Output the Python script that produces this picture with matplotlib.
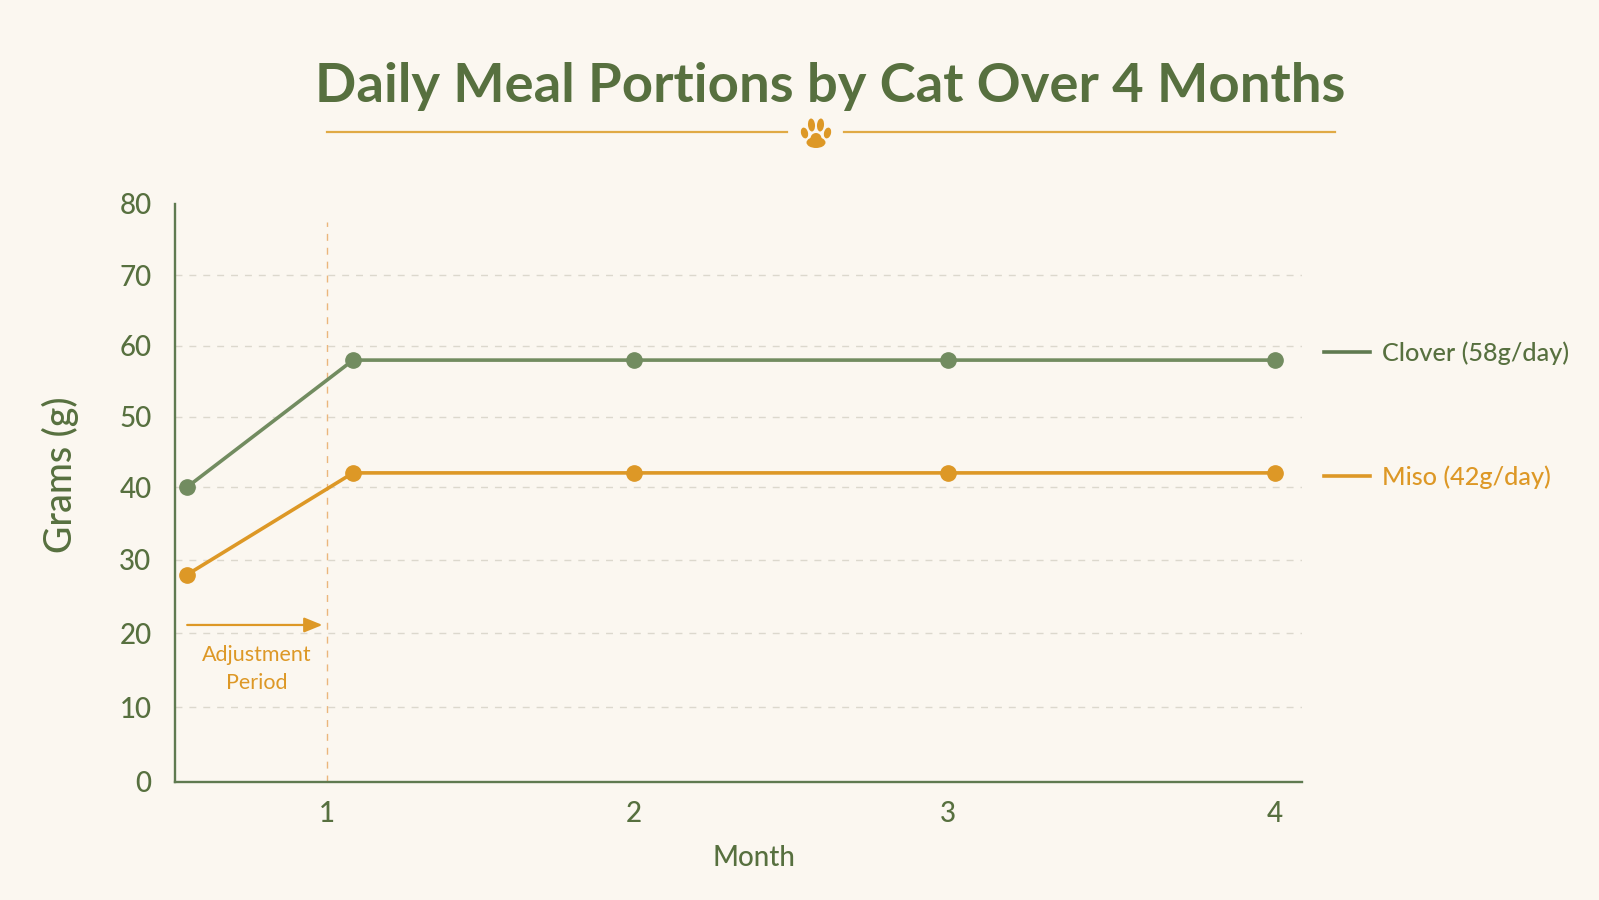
import matplotlib
matplotlib.use('Agg')
import matplotlib.pyplot as plt
from matplotlib.patches import Ellipse
import numpy as np

# Meal data
months = [0.54, 1.085, 2, 3, 4]
clover = [40, 58, 58, 58, 58]
miso = [28, 42, 42, 42, 42]
grid_values = [10, 20, 30, 40, 50, 60, 70]
y_ticks = [0, 10, 20, 30, 40, 50, 60, 70, 80]
x_ticks = [1, 2, 3, 4]

# Hand-spaced axes: value -> distance along the axis
y_knots = [0, 10, 20, 30, 40, 50, 60, 70, 80]
y_dist = [0, 75, 149, 222, 295, 365.5, 436, 507, 578]
x_knots = [0.5, 1, 2, 3, 4, 4.083]
x_dist = [0, 152, 459, 773, 1100, 1127]

GREEN_TEXT = '#57703f'
GREEN_AXIS = '#5f7a50'
GREEN_LINE = '#728c60'
ORANGE = '#dd9826'
RULE = '#e0aa45'
BG = '#fbf7f0'

plt.rcParams['font.family'] = ['Lato', 'DejaVu Sans']

fig = plt.figure(figsize=(15.99, 9), dpi=100, facecolor=BG)
ax = fig.add_axes([175 / 1599, 1 - 782 / 900, 1127 / 1599, 578 / 900], facecolor='none')

ax.set_xscale('function', functions=(lambda v: np.interp(v, x_knots, x_dist),
                                     lambda v: np.interp(v, x_dist, x_knots)))
ax.set_yscale('function', functions=(lambda v: np.interp(v, y_knots, y_dist),
                                     lambda v: np.interp(v, y_dist, y_knots)))
ax.set_xlim(x_knots[0], x_knots[-1])
ax.set_ylim(0, 80)

# Grid and adjustment marker
ax.hlines(grid_values, x_knots[0], x_knots[-1], color='#dcd8cd', lw=1, linestyle=(0, (5, 5)), zorder=1)
ax.vlines(1, 0, 77.5, color='#ebb67c', lw=1, linestyle=(0, (5, 5)), zorder=1)

ax.plot(months, clover, color=GREEN_LINE, lw=2.6, marker='o', ms=11, zorder=3, clip_on=False)
ax.plot(months, miso, color=ORANGE, lw=2.6, marker='o', ms=11, zorder=3, clip_on=False)

ax.annotate('', xy=(0.985, 21.1), xytext=(0.54, 21.1),
            arrowprops=dict(arrowstyle='-|>,head_length=1.1,head_width=0.45', color=ORANGE, lw=1.6,
                            shrinkA=0, shrinkB=0))
ax.text(0.77, 15.1, 'Adjustment\nPeriod', color=ORANGE, fontsize=15.5, ha='center', va='center',
        linespacing=1.5)

for side in ['top', 'right']:
    ax.spines[side].set_visible(False)
for side in ['left', 'bottom']:
    ax.spines[side].set_color(GREEN_AXIS)
    ax.spines[side].set_linewidth(1.7)

ax.set_xticks(x_ticks)
ax.set_yticks(y_ticks)
ax.xaxis.set_minor_locator(plt.NullLocator())
ax.yaxis.set_minor_locator(plt.NullLocator())
ax.set_xticklabels([str(m) for m in x_ticks], fontweight='medium')
ax.set_yticklabels([str(v) for v in y_ticks], fontweight='medium')
ax.tick_params(axis='x', length=0, pad=14, labelsize=20, labelcolor=GREEN_TEXT)
ax.tick_params(axis='y', length=0, pad=17, labelsize=20, labelcolor=GREEN_TEXT)

# Title, rule, legend and axis names share a pixel-sized overlay
over = fig.add_axes([0, 0, 1, 1], facecolor='none')
over.set_xlim(0, 1599)
over.set_ylim(900, 0)
over.axis('off')

over.text(830, 102, 'Daily Meal Portions by Cat Over 4 Months', color=GREEN_TEXT, fontsize=39.2,
          fontweight='bold', ha='center', va='baseline')
over.plot([327, 787], [131.5, 131.5], color=RULE, lw=1.6)
over.plot([844, 1335], [131.5, 131.5], color=RULE, lw=1.6)

# Paw print
for cx, cy, w, h, ang in [(804.5, 133, 7, 11, -15), (811.5, 125, 7, 13, -5),
                          (820.5, 125, 7, 13, 5), (827.5, 133, 7, 11, 15)]:
    over.add_patch(Ellipse((cx, cy), w, h, angle=ang, color=ORANGE, lw=0))
over.add_patch(Ellipse((816, 142.5), 19, 11, color=ORANGE, lw=0))
over.add_patch(Ellipse((816, 138.5), 11, 11, color=ORANGE, lw=0))

over.plot([1324, 1370], [352, 352], color=GREEN_AXIS, lw=2.6)
over.plot([1324, 1370], [476, 476], color=ORANGE, lw=2.6)
over.text(1382, 353, 'Clover (58g/day)', color=GREEN_TEXT, fontsize=18.2, fontweight='medium',
          ha='left', va='center')
over.text(1382, 477, 'Miso (42g/day)', color=ORANGE, fontsize=18.2, fontweight='medium',
          ha='left', va='center')

over.text(60, 475, 'Grams (g)', color=GREEN_TEXT, fontsize=27, fontweight='medium', rotation=90,
          ha='center', va='center')
over.text(754, 858, 'Month', color=GREEN_TEXT, fontsize=20, fontweight='medium', ha='center', va='center')

fig.savefig('out.png', dpi=100, facecolor=BG)
